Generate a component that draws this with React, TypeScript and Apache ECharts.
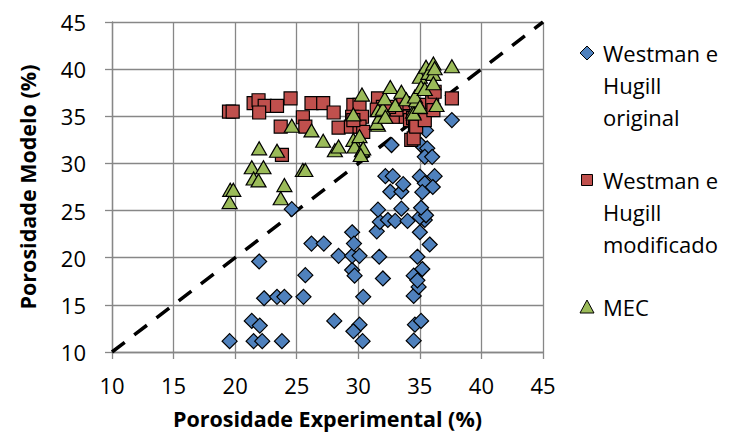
import React, { useEffect, useRef } from "react";
import * as echarts from "echarts";

const xTicks = [10, 15, 20, 25, 30, 35, 40, 45];
const yTicks = [10, 15, 20, 25, 30, 35, 40, 45];

const seriesNames = ["Westman e Hugill original", "Westman e Hugill modificado", "MEC"];
const legendLines = [
  "Westman e\nHugill\noriginal",
  "Westman e\nHugill\nmodificado",
  "MEC",
];
const seriesColors = ["#4F81BD", "#C0504D", "#9BBB59"];

const whOriginal: number[][] = [
  [19.55, 11.15], [21.5, 11.15], [22.2, 11.15], [23.8, 11.15], [30.35, 11.15], [34.5, 11.2],
  [21.35, 13.3], [22.0, 12.8], [28.05, 13.3], [30.1, 12.9], [29.6, 12.2], [34.6, 12.9], [35.1, 13.3],
  [22.35, 15.7], [23.4, 15.85], [24.0, 15.85], [25.55, 15.85], [30.4, 15.85], [34.5, 15.95], [34.9, 16.9],
  [21.95, 19.6], [25.7, 18.15], [29.5, 18.7], [29.7, 18.1], [32.0, 17.8], [34.5, 18.1], [34.8, 17.6], [35.2, 18.8],
  [26.2, 21.5], [27.2, 21.5], [28.4, 20.2], [29.5, 20.2], [30.1, 20.2], [31.7, 20.1], [34.8, 20.1], [35.8, 21.4],
  [29.5, 22.7], [29.65, 21.5], [31.5, 22.8], [31.75, 23.8], [32.4, 24.0], [33.0, 23.9], [34.0, 23.9],
  [35.0, 22.7], [35.4, 24.0], [35.0, 24.3], [35.5, 24.5], [35.1, 25.3],
  [24.6, 25.15], [31.6, 25.1], [33.5, 25.2], [32.6, 27.0], [33.5, 27.0], [33.65, 27.8],
  [32.2, 28.65], [32.8, 28.65], [35.0, 28.6], [36.2, 28.65], [35.4, 27.9], [36.05, 27.5], [35.2, 26.95],
  [32.7, 31.95], [35.1, 31.95], [35.6, 31.6], [35.4, 30.7], [36.0, 30.7], [35.5, 33.5], [37.6, 34.6],
];

const whModificado: number[][] = [
  [19.5, 35.5], [19.8, 35.5], [21.5, 36.4], [21.9, 36.7], [22.4, 36.1], [21.95, 35.4], [23.4, 36.1],
  [24.5, 36.9], [23.7, 33.9], [25.5, 34.9], [25.7, 33.9], [23.8, 30.9], [26.2, 36.4], [27.15, 36.4],
  [28.0, 35.4], [28.4, 33.8], [29.6, 36.2], [30.1, 36.2], [29.5, 34.95], [30.3, 34.95], [29.4, 33.9],
  [30.1, 33.9], [30.4, 33.35], [29.6, 34.6], [31.6, 36.9], [32.0, 36.0], [33.0, 34.95], [33.65, 36.4],
  [33.8, 34.95], [34.2, 34.6], [34.45, 34.8], [34.6, 33.9], [34.3, 32.5], [34.5, 32.65], [34.7, 33.9],
  [35.3, 36.2], [35.4, 34.6], [36.0, 36.5], [36.1, 35.65], [36.2, 37.6], [37.6, 36.9],
  [31.5, 35.7], [32.8, 34.95], [33.1, 35.7], [32.5, 36.0],
];

const mec: number[][] = [
  [19.55, 25.9], [19.6, 27.2], [19.85, 27.2], [21.35, 29.6], [21.5, 28.4], [21.9, 28.2], [21.95, 31.6],
  [22.3, 29.6], [23.4, 31.35], [24.0, 27.7], [23.7, 26.3], [24.6, 34.0], [25.5, 29.3], [25.7, 29.3],
  [26.2, 33.5], [27.15, 32.4], [28.1, 31.4], [28.4, 31.8], [29.6, 32.5], [29.7, 31.8], [30.1, 32.9],
  [30.3, 31.4], [30.4, 31.6], [30.2, 30.9], [29.6, 35.2], [30.3, 37.3], [31.6, 34.1], [31.5, 34.3],
  [31.75, 34.95], [31.6, 35.65], [32.0, 35.8], [32.2, 34.95], [32.15, 36.9], [32.6, 38.1], [33.0, 36.2],
  [33.5, 37.6], [33.9, 36.8], [34.45, 35.5], [34.5, 35.3], [34.7, 36.7], [34.6, 37.1], [35.0, 36.0],
  [35.0, 39.2], [35.1, 38.1], [35.4, 37.9], [35.5, 40.25], [35.7, 39.6], [36.1, 39.5], [36.1, 38.5],
  [36.1, 40.6], [36.2, 40.1], [36.35, 36.2], [37.6, 40.3],
];

const identityLine: number[][] = [[10, 10], [45, 45]];

const FONT = "Open Sans";

export default function App() {
  const ref = useRef<HTMLDivElement>(null);
  useEffect(() => {
    if (!ref.current) return;
    const chart = echarts.init(ref.current, undefined, { renderer: "svg" });
    const gridColor = "#878787";
    const L = 32;
    const legendX = 587;
    const legendTops = [53, 180, 307];
    const iconBorder = { stroke: "#000", lineWidth: 1 };
    const legendGraphics: any[] = [
      {
        type: "polygon",
        shape: { points: [[legendX, legendTops[0] - 7], [legendX + 7, legendTops[0]], [legendX, legendTops[0] + 7], [legendX - 7, legendTops[0]]] },
        style: { fill: seriesColors[0], ...iconBorder },
      },
      {
        type: "rect",
        shape: { x: legendX - 5.5, y: legendTops[1] - 5.5, width: 11, height: 11 },
        style: { fill: seriesColors[1], ...iconBorder },
      },
      {
        type: "polygon",
        shape: { points: [[legendX, legendTops[2] - 7], [legendX + 7, legendTops[2] + 6], [legendX - 7, legendTops[2] + 6]] },
        style: { fill: seriesColors[2], ...iconBorder },
      },
      ...legendLines.map((t, i) => ({
        type: "text",
        x: 603,
        y: legendTops[i] - L / 2,
        style: {
          text: t,
          fontFamily: FONT,
          fontSize: 22,
          lineHeight: L,
          fill: "#000",
          align: "left",
          verticalAlign: "top",
        },
      })),
    ];
    const option: any = {
      animation: false,
      backgroundColor: "#fff",
      textStyle: { fontFamily: FONT },
      grid: { left: 112, right: 186, top: 22, bottom: 83, containLabel: false },
      xAxis: {
        type: "value",
        min: xTicks[0],
        max: xTicks[xTicks.length - 1],
        interval: 5,
        name: "Porosidade Experimental (%)",
        nameLocation: "middle",
        nameGap: 55,
        nameTextStyle: { fontFamily: FONT, fontWeight: "bold", fontSize: 21.5, color: "#000" },
        axisLine: { show: true, lineStyle: { color: gridColor, width: 1.3 } },
        axisTick: { show: true, length: 7, lineStyle: { color: gridColor, width: 1.3 } },
        axisLabel: { fontFamily: FONT, fontSize: 22, color: "#000", margin: 22 },
        splitLine: { show: true, lineStyle: { color: gridColor, width: 1.3 } },
      },
      yAxis: {
        type: "value",
        min: yTicks[0],
        max: yTicks[yTicks.length - 1],
        interval: 5,
        name: "Porosidade Modelo (%)",
        nameLocation: "middle",
        nameGap: 74,
        nameTextStyle: { fontFamily: FONT, fontWeight: "bold", fontSize: 21.5, color: "#000" },
        axisLine: { show: true, lineStyle: { color: gridColor, width: 1.3 } },
        axisTick: { show: true, length: 7, lineStyle: { color: gridColor, width: 1.3 } },
        axisLabel: { fontFamily: FONT, fontSize: 22, color: "#000", margin: 26 },
        splitLine: { show: true, lineStyle: { color: gridColor, width: 1.3 } },
      },
      graphic: legendGraphics,
      series: [
        {
          type: "line",
          data: identityLine,
          symbol: "none",
          silent: true,
          z: 1,
          lineStyle: { color: "#000", width: 3.5, type: [16, 12] },
        },
        {
          name: seriesNames[0],
          type: "scatter",
          data: whOriginal,
          symbol: "diamond",
          symbolSize: 15,
          z: 2,
          itemStyle: { color: seriesColors[0], borderColor: "#000", borderWidth: 1.2, opacity: 1 },
        },
        {
          name: seriesNames[1],
          type: "scatter",
          data: whModificado,
          symbol: "rect",
          symbolSize: 13,
          z: 3,
          itemStyle: { color: seriesColors[1], borderColor: "#000", borderWidth: 1.2, opacity: 1 },
        },
        {
          name: seriesNames[2],
          type: "scatter",
          data: mec,
          symbol: "triangle",
          symbolSize: [15, 13],
          z: 4,
          itemStyle: { color: seriesColors[2], borderColor: "#000", borderWidth: 1.2, opacity: 1 },
        },
      ],
    };
    chart.setOption(option);
    return () => chart.dispose();
  }, []);
  return <div ref={ref} style={{ width: 729, height: 435, position: "absolute", left: 0, top: 0 }} />;
}
